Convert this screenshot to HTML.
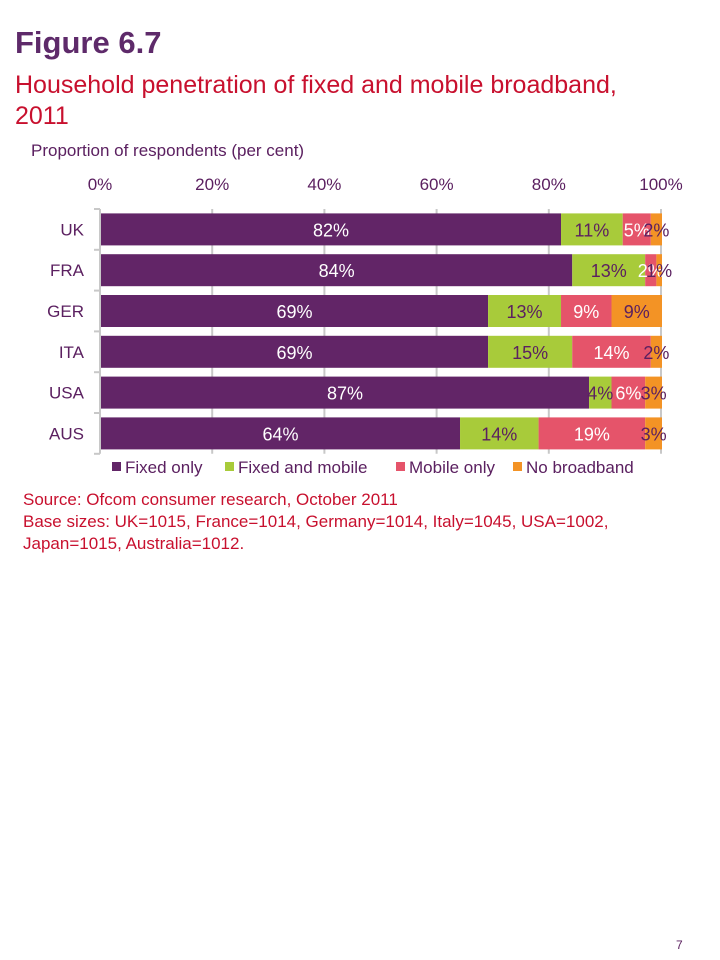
<!DOCTYPE html>
<html><head><meta charset="utf-8"><style>
body{margin:0;width:720px;height:960px;background:#fff;font-family:"Liberation Sans",sans-serif;position:relative;overflow:hidden}
.t{position:absolute;white-space:nowrap}
</style></head><body>
<div class="t" style="left:15px;top:25px;font-size:31px;font-weight:bold;color:#5e2a6a">Figure 6.7</div>
<div class="t" style="left:15px;top:70px;font-size:25px;line-height:31px;color:#c8102e;white-space:normal;width:650px">Household penetration of fixed and mobile broadband, 2011</div>
<div class="t" style="left:31px;top:141px;font-size:17px;color:#5b2060">Proportion of respondents (per cent)</div>
<svg id="chart" width="720" height="480" style="position:absolute;left:0;top:0" font-family="Liberation Sans, sans-serif"></svg>
<div class="t" style="left:23px;top:489px;font-size:17px;line-height:22px;color:#c8102e">Source: Ofcom consumer research, October 2011<br>Base sizes: UK=1015, France=1014, Germany=1014, Italy=1045, USA=1002,<br>Japan=1015, Australia=1012.</div>
<div class="t" style="left:676px;top:938px;font-size:12px;color:#5b2060">7</div>
<script>
const categories=["UK","FRA","GER","ITA","USA","AUS"];
const fixedOnly=[82,84,69,69,87,64];
const fixedMobile=[11,13,13,15,4,14];
const mobileOnly=[5,2,9,14,6,19];
const noBroadband=[2,1,9,2,3,3];
const seriesNames=["Fixed only","Fixed and mobile","Mobile only","No broadband"];
const tickLabels=["0%","20%","40%","60%","80%","100%"];
const tickValues=[0,20,40,60,80,100];
const colors=["#622567","#a8cb3a","#e5546a","#f39325"];
const labelColors=["#fff","#5b2060","#fff","#5b2060"];
const svg=document.getElementById('chart');
const NS="http://www.w3.org/2000/svg";
const x0=100,x1=661,top0=209,rowH=40.8,barH=32;
const xs=v=>x0+v*(x1-x0)/100;
function mk(t,a){const e=document.createElementNS(NS,t);for(const k in a)e.setAttribute(k,a[k]);svg.appendChild(e);return e;}
tickValues.forEach((v,i)=>{
  if(v>0){const g=mk('line',{x1:xs(v),x2:xs(v),y1:top0,y2:top0+rowH*categories.length,stroke:'#c8c8c8','stroke-width':2});
  }
  const t=mk('text',{x:xs(v),y:190,'text-anchor':'middle','font-size':17,fill:'#5b2060'});t.textContent=tickLabels[i];
  
});
const ax=mk('line',{x1:x0,x2:x0,y1:top0,y2:top0+rowH*categories.length,stroke:'#c8c8c8','stroke-width':2});

for(let i=0;i<=categories.length;i++){const tk=mk('line',{x1:x0-6,x2:x0,y1:top0+rowH*i,y2:top0+rowH*i,stroke:'#c8c8c8','stroke-width':2});
}
const series=[fixedOnly,fixedMobile,mobileOnly,noBroadband];
categories.forEach((c,i)=>{
  const y=top0+rowH*i+(rowH-barH)/2;
  const lt=mk('text',{x:84,y:y+barH/2+6,'text-anchor':'end','font-size':17,fill:'#5b2060'});lt.textContent=c;
  
  let acc=0;
  series.forEach((s,j)=>{
    const v=s[i];
    const r=mk('rect',{x:xs(acc)+1,y:y,width:xs(acc+v)-xs(acc),height:barH,fill:colors[j]});
    
    acc+=v;
  });
  acc=0;
  series.forEach((s,j)=>{
    const v=s[i];
    const t=mk('text',{x:(xs(acc)+xs(acc+v))/2+1,y:y+barH/2+7,'text-anchor':'middle','font-size':18,fill:labelColors[j]});
    t.textContent=v+'%';
    
    acc+=v;
  });
});
const lx=[112,225,396,513];
seriesNames.forEach((n,j)=>{
  const r=mk('rect',{x:lx[j],y:462,width:9,height:9,fill:colors[j]});
  
  const t=mk('text',{x:lx[j]+13,y:473,'font-size':17,fill:'#5b2060'});t.textContent=n;
  
});
</script>
</body></html>
